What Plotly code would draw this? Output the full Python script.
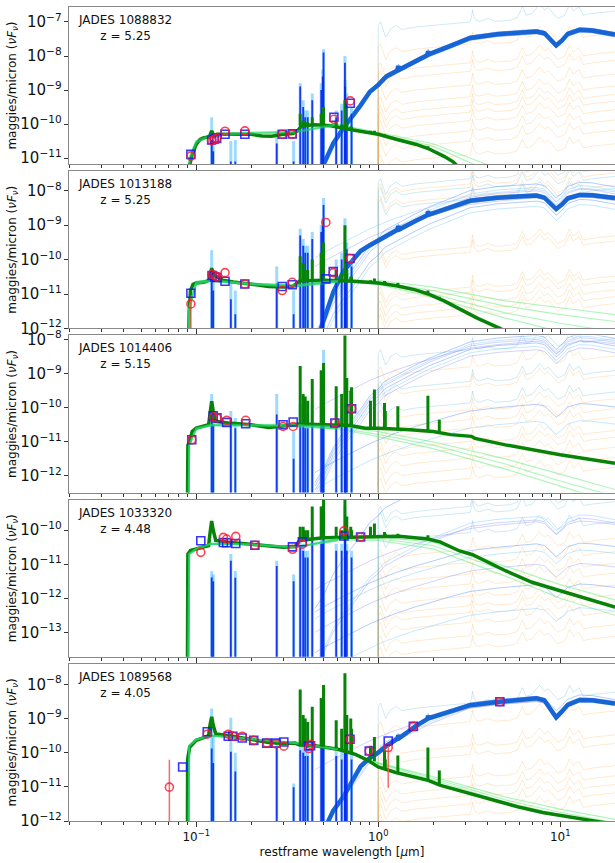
import math
import plotly.graph_objects as go
from plotly.subplots import make_subplots

# ----------------------------------------------------------------- data
OBJ_NAMES = ["JADES 1088832", "JADES 1013188", "JADES 1014406", "JADES 1033320", "JADES 1089568"]
REDSHIFTS = ["5.25", "5.25", "5.15", "4.48", "4.05"]
Y_RANGES = [(-11.18, -6.56), (-12.0, -7.43), (-12.49, -7.88), (-13.72, -9.10), (-12.0, -7.40)]
X_RANGE = (0.02, 20.0)
X_TICKS = [0.1, 1.0, 10.0]
X_TICK_TEXT = ["10<sup>\u22121</sup>", "10<sup>0</sup>", "10<sup>1</sup>"]

# photometry: wavelength [um], observed and model log10 flux
P1_PHOT_WL = [0.0935, 0.1216, 0.1257, 0.1295, 0.144, 0.185, 0.297, 0.337, 0.571, 0.702]
P1_OBS = [-10.94, -10.49, -10.45, -10.42, -10.21, -10.20, -10.30, -10.30, -9.86, -9.32]
P1_MOD = [-10.89, -10.47, -10.44, -10.42, -10.30, -10.30, -10.30, -10.29, -9.80, -9.39]

P2_PHOT_WL = [0.0935, 0.1222, 0.1266, 0.130, 0.144, 0.185, 0.297, 0.337, 0.516, 0.566, 0.70]
P2_OBS = [-11.29, -10.43, -10.46, -10.51, -10.38, -10.71, -10.90, -10.66, -8.92, -10.38, -9.97]
P2_MOD = [-10.98, -10.46, -10.51, -10.52, -10.63, -10.71, -10.78, -10.73, -10.56, -10.35, -9.97]

P3_PHOT_WL = [0.0945, 0.124, 0.130, 0.147, 0.187, 0.300, 0.341, 0.578, 0.714]
P3_OBS = [-10.94, -10.27, -10.30, -10.37, -10.37, -10.55, -10.55, -10.45, -10.03]
P3_MOD = [-10.94, -10.24, -10.30, -10.43, -10.47, -10.50, -10.42, -10.45, -10.03]

P4_PHOT_WL = [0.106, 0.141, 0.147, 0.165, 0.21, 0.338, 0.383, 0.648, 0.80]
P4_OBS = [-10.65, -10.21, -10.26, -10.18, -10.44, -10.56, -10.41, -10.02, -10.20]
P4_MOD = [-10.31, -10.36, -10.37, -10.39, -10.44, -10.49, -10.34, -10.17, -10.20]

P5_PHOT_WL = [0.0712, 0.0842, 0.115, 0.150, 0.159, 0.179, 0.207, 0.244, 0.274, 0.303,
              0.415, 0.425, 0.70, 0.893, 1.135, 1.56, 4.66]
P5_OBS = [-11.01, None, -9.46, -9.46, -9.52, -9.52, -9.64, -9.72, -9.74, -9.81,
          -9.88, -9.76, -9.61, -9.95, -9.85, -9.23, -8.51]
P5_MOD = [None, -10.42, -9.39, -9.52, -9.52, -9.57, -9.64, -9.72, -9.72, -9.69,
          -9.80, -9.80, -9.61, -9.95, -9.66, -9.23, -8.51]

# error bars (wavelength, low, high) in log10 flux
P2_ERR_WL = [0.0935]
P2_ERR_LO = [-12.6]
P2_ERR_HI = [-11.05]
P5_ERR_WL = [0.0712, 1.135]
P5_ERR_LO = [-12.6, -11.03]
P5_ERR_HI = [-10.21, -9.78]

# stellar best-fit continuum (thick green)
P1_G_WL = [0.0905, 0.0912, 0.095, 0.1, 0.105, 0.11, 0.118, 0.1216, 0.125, 0.13, 0.15, 0.2, 0.23, 0.26,
           0.3, 0.34, 0.36, 0.38, 0.45, 0.55, 0.65, 0.8, 1.0, 1.3, 1.62, 1.88, 2.3, 2.58, 2.8]
P1_G = [-13, -11.3, -10.9, -10.6, -10.45, -10.4, -10.38, -10.2, -10.35, -10.3, -10.3, -10.3, -10.35, -10.36,
        -10.3, -10.28, -10.2, -10.05, -10.02, -10.05, -10.13, -10.22, -10.3, -10.47, -10.6, -10.72, -10.95,
        -11.11, -11.3]
P2_G_WL = [0.0905, 0.0915, 0.093, 0.096, 0.1, 0.11, 0.118, 0.1216, 0.125, 0.13, 0.14, 0.16, 0.2, 0.25, 0.3,
           0.34, 0.37, 0.5, 0.7, 1.0, 1.26, 1.6, 1.88, 2.3, 2.81, 3.5, 4.66, 5.5]
P2_G = [-13, -11.5, -10.9, -10.72, -10.68, -10.66, -10.6, -10.25, -10.45, -10.5, -10.6, -10.65, -10.72,
        -10.78, -10.8, -10.78, -10.62, -10.6, -10.62, -10.68, -10.76, -10.88, -11.0, -11.2, -11.44, -11.7,
        -12.0, -12.2]
P3_G_WL = [0.0895, 0.09, 0.092, 0.095, 0.1, 0.11, 0.117, 0.119, 0.1216, 0.124, 0.128, 0.15, 0.2, 0.25, 0.3,
           0.35, 0.37, 0.5, 0.7, 0.85, 1.0, 1.5, 2.0, 2.5, 3.25, 3.4, 5.0, 10.0, 20.0]
P3_G = [-13, -11.1, -11.0, -10.7, -10.6, -10.55, -10.5, -10.2, -9.81, -10.1, -10.4, -10.45, -10.5, -10.58,
        -10.55, -10.5, -10.48, -10.5, -10.52, -10.6, -10.6, -10.65, -10.7, -10.79, -10.84, -10.9, -11.09,
        -11.38, -11.63]
P4_G_WL = [0.0895, 0.09, 0.093, 0.1, 0.11, 0.117, 0.119, 0.1216, 0.124, 0.128, 0.15, 0.2, 0.25, 0.3, 0.35,
           0.37, 0.5, 0.7, 1.0, 1.3, 1.88, 2.2, 2.8, 3.3, 5.0, 7.0, 10.0, 15.0, 20.0]
P4_G = [-14, -10.7, -10.6, -10.55, -10.5, -10.45, -10.1, -9.73, -10.0, -10.3, -10.35, -10.42, -10.48, -10.5,
        -10.48, -10.3, -10.22, -10.2, -10.17, -10.18, -10.26, -10.35, -10.61, -10.72, -11.19, -11.53,
        -11.78, -12.07, -12.26]
P5_G_WL = [0.0893, 0.0897, 0.092, 0.1, 0.11, 0.117, 0.119, 0.1216, 0.124, 0.128, 0.15, 0.2, 0.25, 0.3, 0.35,
           0.37, 0.45, 0.6, 0.75, 0.88, 1.0, 1.25, 1.5, 1.88, 2.2, 3.2, 4.7, 6.0, 8.0, 11.3, 16.0, 20.0]
P5_G = [-14, -10.2, -9.84, -9.64, -9.56, -9.5, -9.2, -8.95, -9.2, -9.45, -9.5, -9.6, -9.7, -9.73, -9.72,
        -9.78, -9.8, -9.9, -10.05, -10.23, -10.42, -10.58, -10.68, -10.81, -10.96, -11.2, -11.45, -11.6,
        -11.75, -11.89, -12.03, -12.1]

# nebular lines on the stellar model: wavelength, base and peak (log10 flux)
GL_WL = [0.3727, 0.3869, 0.397, 0.410, 0.434, 0.4861, 0.4959, 0.5007, 0.5876, 0.630, 0.6563, 0.672,
         0.7065, 0.7136, 0.9069, 0.9531, 1.083, 1.094, 1.282, 1.875, 2.166]
P1_GL_BASE = [-10.05, -10.03, -10.03, -10.02, -10.02, -10.02, -10.03, -10.03, -10.08, -10.1, -10.12, -10.13,
              -10.15, -10.15, -10.25, -10.28, -10.35, -10.36, -10.47, -10.72, -10.9]
P1_GL_PEAK = [-9.7, -9.9, -9.95, -9.95, -9.8, -9.7, -9.7, -9.5, -9.95, -10.02, -9.3, -9.95, -10.08, -10.08,
              -10.2, -10.2, -10.3, -10.33, -10.42, -10.65, -10.88]
P2_GL_BASE = [-10.62, -10.61, -10.6, -10.6, -10.6, -10.6, -10.6, -10.6, -10.6, -10.61, -10.62, -10.62,
              -10.63, -10.63, -10.66, -10.67, -10.7, -10.7, -10.76, -11.0, -11.12]
P2_GL_PEAK = [-9.9, -10.1, -10.3, -10.3, -10.0, -9.8, -9.9, -9.5, -10.3, -10.4, -9.0, -10.3, -10.5, -10.5,
              -10.6, -10.55, -10.62, -10.65, -10.68, -10.9, -11.08]
P3_GL_BASE = [-10.48, -10.48, -10.49, -10.49, -10.5, -10.5, -10.5, -10.5, -10.51, -10.51, -10.52, -10.52,
              -10.53, -10.53, -10.6, -10.6, -10.61, -10.61, -10.63, -10.68, -10.72]
P3_GL_PEAK = [-8.78, -9.6, -9.67, -9.8, -9.16, -8.9, -9.2, -8.69, -9.37, -9.6, -7.7, -9.13, -9.5, -9.4,
              -9.8, -9.47, -9.86, -10.1, -9.96, -9.65, -10.35]
P4_GL_BASE = [-10.28, -10.27, -10.26, -10.25, -10.24, -10.22, -10.22, -10.22, -10.21, -10.2, -10.2, -10.2,
              -10.2, -10.2, -10.18, -10.18, -10.17, -10.17, -10.18, -10.26, -10.34]
P4_GL_PEAK = [-9.9, -9.9, -10.0, -10.0, -9.3, -9.3, -9.3, -9.0, -9.9, -10.0, -8.9, -9.6, -9.9, -10.0,
              -9.9, -9.8, -10.05, -10.1, -10.1, -10.15, -10.3]
P5_GL_BASE = [-9.78, -9.79, -9.79, -9.8, -9.8, -9.82, -9.83, -9.83, -9.88, -9.92, -9.95, -9.97, -10.0,
              -10.01, -10.2, -10.25, -10.45, -10.46, -10.58, -10.81, -10.96]
P5_GL_PEAK = [-8.15, -8.9, -9.0, -9.1, -8.66, -8.4, -8.5, -8.02, -9.05, -9.3, -7.68, -8.9, -9.0, -9.3,
              -9.8, -9.54, -9.93, -10.2, -10.08, -9.85, -10.52]

# stellar posterior samples (light green)
LG_WL = [0.0905, 0.0915, 0.1, 0.12, 0.2, 0.35, 0.6, 1.0, 2.0, 5.0, 10.0, 20.0]
P1_LG = [[-14, -11.2, -10.55, -10.35, -10.28, -10.25, -10.02, -10.28, -10.65, -11.6, -12.4, -13.1],
         [-14, -11.0, -10.5, -10.32, -10.25, -10.22, -10.0, -10.25, -10.58, -11.4, -12.1, -12.8]]
P2_LG = [[-14, -11.4, -10.65, -10.6, -10.7, -10.75, -10.6, -10.6, -10.8, -11.2, -11.4, -11.6],
         [-14, -11.4, -10.65, -10.6, -10.7, -10.75, -10.62, -10.65, -10.9, -11.35, -11.6, -11.8],
         [-14, -11.4, -10.7, -10.62, -10.72, -10.78, -10.65, -10.7, -11.0, -11.55, -11.85, -12.1],
         [-14, -11.4, -10.7, -10.62, -10.72, -10.78, -10.62, -10.72, -11.1, -11.7, -12.1, -12.4]]
P3_LG = [[-14, -11.1, -10.6, -10.5, -10.5, -10.5, -10.55, -10.7, -11.0, -11.5, -11.95, -12.4],
         [-14, -11.1, -10.62, -10.52, -10.52, -10.52, -10.6, -10.78, -11.1, -11.65, -12.15, -12.6],
         [-14, -11.1, -10.62, -10.52, -10.52, -10.55, -10.62, -10.85, -11.2, -11.8, -12.3, -12.8]]
P4_LG = [[-14, -10.7, -10.55, -10.4, -10.42, -10.5, -10.25, -10.2, -10.35, -11.05, -11.6, -12.05],
         [-14, -10.7, -10.55, -10.4, -10.42, -10.5, -10.28, -10.25, -10.45, -11.2, -11.8, -12.3],
         [-14, -10.7, -10.55, -10.4, -10.42, -10.5, -10.3, -10.3, -10.55, -11.35, -12.0, -12.5]]
P5_LG = [[-14, -9.8, -9.62, -9.5, -9.6, -9.72, -9.9, -10.3, -10.7, -11.3, -11.65, -11.95],
         [-14, -9.8, -9.62, -9.5, -9.6, -9.72, -9.9, -10.3, -10.75, -11.38, -11.75, -12.05],
         [-14, -9.8, -9.62, -9.5, -9.6, -9.72, -9.9, -10.32, -10.8, -11.45, -11.82, -12.15]]
UV_LIMIT = 0.7   # samples are drawn over the best fit shortward of this wavelength

# AGN torus best fit (thick blue)
AGN_WL = [0.45, 0.5, 0.566, 0.642, 0.8, 0.9, 1.0, 1.08, 1.11, 1.27, 1.29, 1.31, 1.6, 1.86, 1.88, 1.9, 2.5,
          3.2, 4.5, 6.0, 7.4, 8.2, 9.0, 9.5, 10.2, 11.0, 12.8, 15.0, 20.0]
P1_A = [-11.6, -11.2, -10.57, -10.13, -9.45, -9.05, -8.85, -8.66, -8.6, -8.43, -8.3, -8.4, -8.15, -7.98,
        -7.86, -7.95, -7.7, -7.47, -7.36, -7.32, -7.28, -7.33, -7.55, -7.69, -7.55, -7.35, -7.23, -7.25, -7.37]
P2_A = [-12.5, -11.8, -10.95, -10.35, -9.75, -9.58, -9.44, -9.33, -9.3, -9.14, -9.03, -9.12, -8.88, -8.71,
        -8.6, -8.69, -8.48, -8.29, -8.2, -8.16, -8.14, -8.2, -8.4, -8.53, -8.4, -8.22, -8.12, -8.13, -8.21]
P3_A = None
P4_A = None
P5_A = [-13, -12.3, -11.7, -11.3, -10.4, -10.15, -10.0, -9.85, -9.8, -9.6, -9.5, -9.57, -9.23, -9.02,
        -8.92, -8.99, -8.78, -8.61, -8.52, -8.45, -8.41, -8.47, -8.8, -8.97, -8.8, -8.6, -8.46, -8.47, -8.56]
# AGN posterior sample shapes (relative to 7.4 um)
AGN_STEEP_REL = [-4.3, -3.92, -3.29, -2.85, -2.17, -1.77, -1.57, -1.36, -1.32, -1.15, -1.13, -1.11, -0.87,
                 -0.7, -0.68, -0.67, -0.42, -0.19, -0.08, -0.04, 0.0, -0.05, -0.27, -0.41, -0.27, -0.07,
                 0.05, 0.03, -0.09]
AGN_SHALLOW_REL = [-2.0, -1.85, -1.7, -1.55, -1.3, -1.15, -1.05, -0.97, -0.95, -0.83, -0.82, -0.81, -0.65,
                   -0.56, -0.55, -0.54, -0.35, -0.2, -0.1, -0.05, 0.0, -0.05, -0.25, -0.38, -0.25, -0.08,
                   0.02, 0.0, -0.08]
P1_AGN_STEEP = [-7.22, -7.25, -7.32, -7.35]
P1_AGN_SHALLOW = []
P2_AGN_STEEP = [-7.8, -7.9, -8.0, -8.3, -8.45]
P2_AGN_SHALLOW = [-7.95, -8.2]
P3_AGN_STEEP = [-7.88, -7.95, -8.0, -8.1, -8.2, -8.3]
P3_AGN_SHALLOW = [-8.05, -9.9, -10.4]
P4_AGN_STEEP = [-8.0, -9.6, -9.7]
P4_AGN_SHALLOW = [-9.75, -10.4, -10.6, -11.0, -11.6, -12.3]
P5_AGN_STEEP = [-8.36, -8.45, -8.5]
P5_AGN_SHALLOW = [-8.5]

# dust emission models (relative shape, log10) and their levels at 2 um
DUST_WL = [1.0, 1.0, 1.03, 1.1, 1.17, 1.25, 1.35, 1.6, 2.0, 2.6, 3.2, 3.27, 3.3, 3.36, 3.45, 3.6, 4.0, 4.4,
           5.3, 5.8, 6.2, 6.5, 7.0, 7.7, 8.2, 8.6, 9.2, 9.7, 10.6, 11.25, 11.8, 12.7, 13.4, 15.0, 17.0, 20.0]
DUST_REL = [-30, 0.0, 0.1, -0.35, -0.1, 0.0, -0.12, -0.05, 0.0, 0.05, 0.1, 0.3, 0.45, 0.25, 0.15, 0.12,
            0.2, 0.12, 0.15, 0.22, 0.55, 0.3, 0.35, 0.62, 0.45, 0.52, 0.35, 0.2, 0.3, 0.62, 0.42, 0.55,
            0.3, 0.35, 0.38, 0.42]
P1_DUST_ORANGE = [-7.75, -8.3, -8.55, -8.95, -9.3, -9.55, -9.75, -10.0, -10.3, -10.6, -11.0]
P1_DUST_TEAL = [-7.1]
P2_DUST_ORANGE = [-7.9, -8.25, -9.73, -9.88, -10.9, -11.05, -11.3, -11.5, -11.7]
P2_DUST_TEAL = [-7.75, -8.0, -8.35]
P3_DUST_ORANGE = [-8.9, -9.47, -10.16, -10.45, -10.7, -11.09, -11.29, -11.58, -11.88, -12.17]
P3_DUST_TEAL = [-8.4, -9.33, -9.96]
P4_DUST_ORANGE = [-10.66, -11.05, -11.39, -11.68, -12.03, -12.32, -12.52, -12.81, -13.2, -13.54]
P4_DUST_TEAL = [-9.4, -9.58, -10.17]
P5_DUST_ORANGE = [-9.2, -9.9, -10.15, -10.8, -11.1, -11.35, -11.6, -11.9]
P5_DUST_TEAL = [-8.65]

# AGN narrow emission lines: wavelength and peak (dark core / light envelope)
EL_WL = [0.1216, 0.124, 0.155, 0.164, 0.277, 0.343, 0.3727, 0.3869, 0.397, 0.410, 0.434, 0.4861, 0.4959,
         0.5007, 0.5876, 0.630, 0.6563, 0.6584, 0.672, 0.7136]
P1_EL_DARK = [-10.47, -10.8, -11.1, -11.1, -10.57, -11.1, -8.9, -9.5, -9.8, -9.8, -9.3, -9.0, -8.6, -7.9,
              -9.8, -9.6, -8.2, -8.9, -9.3, -9.7]
P1_EL_LIGHT = [-9.8, -10.5, -10.5, -10.47, -10.2, -10.5, -8.8, -9.3, -9.6, -9.6, -9.1, -8.8, -8.4, -7.8,
               -9.6, -9.4, -8.0, -8.7, -9.1, -9.5]
P2_EL_DARK = [-10.46, -10.9, -11.15, -11.59, -10.7, -11.59, -9.3, -9.6, -9.8, -9.8, -9.4, -9.2, -9.0, -8.41,
              -10.3, -10.0, -9.05, -9.7, -9.7, -10.2]
P2_EL_LIGHT = [-9.73, -10.3, -10.6, -10.9, -10.2, -10.9, -9.1, -9.4, -9.6, -9.6, -9.2, -9.0, -8.8, -8.21,
               -10.0, -9.8, -8.8, -9.5, -9.5, -10.0]
P3_EL_DARK = [-10.2, -10.5, -10.3, -10.6, -10.2, -11.5, -10.5, -10.5, -10.6, -10.6, -10.5, -10.5, -10.5,
              -10.4, -10.2, -10.5, -10.4, -10.5, -10.5, -10.6]
P3_EL_LIGHT = [-9.6, -10.3, -10.1, -10.3, -9.6, -10.7, -9.9, -10.1, -10.2, -10.2, -9.9, -9.5, -9.3, -8.3,
               -10.0, -10.2, -9.6, -10.2, -10.2, -10.4]
P4_EL_DARK = [-11.39, -11.5, -10.9, -11.4, -11.05, -11.5, -10.5, -10.6, -10.8, -10.8, -10.3, -10.4, -10.4,
              -9.6, -10.6, -10.6, -9.5, -10.3, -10.6, -10.8]
P4_EL_LIGHT = [-11.2, -11.3, -10.7, -11.2, -10.9, -11.3, -10.3, -10.4, -10.6, -10.6, -10.1, -10.2, -10.2,
               -9.4, -10.4, -10.4, -9.3, -10.1, -10.4, -10.6]
P5_EL_DARK = [-9.88, -10.3, -9.97, -10.55, -9.84, -11.01, -9.93, -10.0, -10.1, -10.1, -9.9, -9.7, -9.6,
              -9.3, -10.1, -10.2, -9.3, -9.9, -10.0, -10.2]
P5_EL_LIGHT = [-8.71, -9.5, -8.98, -10.0, -9.6, -10.9, -9.6, -9.8, -9.9, -9.9, -9.6, -9.4, -9.2, -8.8,
               -9.8, -9.9, -8.9, -9.6, -9.7, -9.9]

# ----------------------------------------------------------------- styling
ORANGE = "rgba(255,160,40,0.22)"
TEAL = "rgba(100,185,215,0.30)"
AGN_THIN = ["rgba(40,110,255,0.35)", "rgba(90,190,255,0.35)", "rgba(80,80,255,0.25)"]
AGN_THICK = "#1764d4"
AGN_EDGE = "rgba(90,150,255,0.55)"
LGREEN = "rgba(60,230,90,0.40)"
LGREEN_UV = "rgba(40,215,110,0.45)"
GREEN = "#078407"
SPIKE_LIGHT = "rgba(40,170,255,0.45)"
SPIKE_DARK = "rgba(10,40,235,0.90)"
FLOOR = -40.0

PANELS = [
    dict(phot=(P1_PHOT_WL, P1_OBS, P1_MOD), err=None, g=(P1_G_WL, P1_G), gl=(P1_GL_BASE, P1_GL_PEAK),
         lg=P1_LG, a=P1_A, steep=P1_AGN_STEEP, shallow=P1_AGN_SHALLOW, dust=(P1_DUST_ORANGE, P1_DUST_TEAL),
         el=(P1_EL_DARK, P1_EL_LIGHT)),
    dict(phot=(P2_PHOT_WL, P2_OBS, P2_MOD), err=(P2_ERR_WL, P2_ERR_LO, P2_ERR_HI), g=(P2_G_WL, P2_G),
         gl=(P2_GL_BASE, P2_GL_PEAK), lg=P2_LG, a=P2_A, steep=P2_AGN_STEEP, shallow=P2_AGN_SHALLOW,
         dust=(P2_DUST_ORANGE, P2_DUST_TEAL), el=(P2_EL_DARK, P2_EL_LIGHT)),
    dict(phot=(P3_PHOT_WL, P3_OBS, P3_MOD), err=None, g=(P3_G_WL, P3_G), gl=(P3_GL_BASE, P3_GL_PEAK),
         lg=P3_LG, a=P3_A, steep=P3_AGN_STEEP, shallow=P3_AGN_SHALLOW, dust=(P3_DUST_ORANGE, P3_DUST_TEAL),
         el=(P3_EL_DARK, P3_EL_LIGHT)),
    dict(phot=(P4_PHOT_WL, P4_OBS, P4_MOD), err=None, g=(P4_G_WL, P4_G), gl=(P4_GL_BASE, P4_GL_PEAK),
         lg=P4_LG, a=P4_A, steep=P4_AGN_STEEP, shallow=P4_AGN_SHALLOW, dust=(P4_DUST_ORANGE, P4_DUST_TEAL),
         el=(P4_EL_DARK, P4_EL_LIGHT)),
    dict(phot=(P5_PHOT_WL, P5_OBS, P5_MOD), err=(P5_ERR_WL, P5_ERR_LO, P5_ERR_HI), g=(P5_G_WL, P5_G),
         gl=(P5_GL_BASE, P5_GL_PEAK), lg=P5_LG, a=P5_A, steep=P5_AGN_STEEP, shallow=P5_AGN_SHALLOW,
         dust=(P5_DUST_ORANGE, P5_DUST_TEAL), el=(P5_EL_DARK, P5_EL_LIGHT)),
]


def lin(vals):
    return [None if v is None else 10.0 ** v for v in vals]


fig = make_subplots(rows=5, cols=1, shared_xaxes=True, vertical_spacing=7.0 / 814.0)


def add_line(row, x, ylog, color, width):
    fig.add_trace(go.Scatter(x=x, y=lin(ylog), mode="lines", line=dict(color=color, width=width),
                             hoverinfo="skip", showlegend=False), row=row, col=1)


def add_segments(row, xs, lo, hi, color, width):
    x, y = [], []
    for w, a, b in zip(xs, lo, hi):
        x += [w, w, None]
        y += [a, b, None]
    add_line(row, x, y, color, width)


for i, p in enumerate(PANELS):
    row = i + 1
    # dust models
    orange_levels, teal_levels = p["dust"]
    for lev in orange_levels:
        add_line(row, DUST_WL, [lev + r for r in DUST_REL], ORANGE, 1)
    for lev in teal_levels:
        add_line(row, DUST_WL, [lev + r for r in DUST_REL], TEAL, 1)
    # AGN posterior samples
    k = 0
    for off in p["steep"]:
        add_line(row, AGN_WL, [off + r for r in AGN_STEEP_REL], AGN_THIN[k % 3], 1)
        k += 1
    for off in p["shallow"]:
        add_line(row, AGN_WL, [off + r for r in AGN_SHALLOW_REL], AGN_THIN[(k + 2) % 3], 1)
        k += 1
    # stellar posterior samples
    for curve in p["lg"]:
        add_line(row, LG_WL, curve, LGREEN, 1.2)
    # AGN best fit
    if p["a"] is not None:
        add_line(row, AGN_WL, [v + 0.06 for v in p["a"]], AGN_EDGE, 1)
        add_line(row, AGN_WL, [v - 0.06 for v in p["a"]], AGN_EDGE, 1)
        add_line(row, AGN_WL, p["a"], AGN_THICK, 4.5)
    # emission-line spikes
    dark, light = p["el"]
    add_segments(row, EL_WL, [FLOOR] * len(EL_WL), light, SPIKE_LIGHT, 3)
    add_segments(row, EL_WL, [FLOOR] * len(EL_WL), dark, SPIKE_DARK, 1.8)
    # stellar best fit
    gwl, gval = p["g"]
    add_line(row, gwl, gval, GREEN, 3.5)
    # UV part of the stellar samples overlays the best fit
    for curve in p["lg"]:
        sel = [(w, v) for w, v in zip(LG_WL, curve) if w <= UV_LIMIT]
        add_line(row, [s[0] for s in sel], [s[1] for s in sel], LGREEN_UV, 2)
    base, peak = p["gl"]
    add_segments(row, GL_WL, base, peak, GREEN, 3)
    # error bars
    if p["err"] is not None:
        ewl, elo, ehi = p["err"]
        add_segments(row, ewl, elo, ehi, "rgba(250,80,70,0.85)", 1.5)
    # photometry
    wl, obs, mod = p["phot"]
    fig.add_trace(go.Scatter(x=wl, y=lin(mod), mode="markers",
                             marker=dict(symbol="square-open", size=8, color="rgba(20,20,255,0.85)",
                                         line=dict(width=1.6)),
                             hoverinfo="skip", showlegend=False), row=row, col=1)
    fig.add_trace(go.Scatter(x=wl, y=lin(obs), mode="markers",
                             marker=dict(symbol="circle-open", size=8, color="rgba(255,20,40,0.8)",
                                         line=dict(width=1.6)),
                             hoverinfo="skip", showlegend=False), row=row, col=1)

    xname = "x" if row == 1 else f"x{row}"
    yname = "y" if row == 1 else f"y{row}"
    fig.add_annotation(xref=f"{xname} domain", yref=f"{yname} domain", x=0.012, y=0.975,
                       xanchor="left", yanchor="top", align="center", showarrow=False,
                       text=f"{OBJ_NAMES[i]}<br>z = {REDSHIFTS[i]}",
                       font=dict(size=12, color="#111"))
    fig.update_yaxes(type="log", range=list(Y_RANGES[i]), dtick=1, exponentformat="power",
                     ticks="outside", ticklen=4, tickcolor="#333", showline=True, linecolor="#888",
                     linewidth=1, mirror=False, showgrid=False, zeroline=False,
                     tickfont=dict(size=12, color="#111"),
                     title=dict(text="maggies/micron (<i>\u03bdF</i><sub><i>\u03bd</i></sub>)",
                                font=dict(size=12, color="#111"), standoff=1),
                     automargin=False, row=row, col=1)

minor_vals = [m * 10.0 ** e for e in (-2, -1, 0, 1) for m in range(2, 10)] + [20.0]
for row in range(1, 6):
    fig.update_xaxes(type="log", range=[math.log10(X_RANGE[0]), math.log10(X_RANGE[1])],
                     tickmode="array", tickvals=X_TICKS, ticktext=X_TICK_TEXT,
                     ticks="outside", ticklen=5, tickcolor="#333", showline=True, linecolor="#888",
                     linewidth=1, mirror=True, showgrid=False, zeroline=False,
                     tickfont=dict(size=12, color="#111"),
                     minor=dict(tickmode="array", tickvals=minor_vals, ticks="outside", ticklen=3,
                                tickcolor="#333", showgrid=False),
                     automargin=False, row=row, col=1)
fig.update_xaxes(title=dict(text="restframe wavelength [<i>\u03bc</i>m]", font=dict(size=12, color="#111"),
                            standoff=4), row=5, col=1)

fig.update_layout(width=615, height=863, margin=dict(l=69, r=0, t=7, b=42),
                  plot_bgcolor="white", paper_bgcolor="white",
                  font=dict(family="DejaVu Sans", size=12, color="#111"), showlegend=False)

fig.write_html("out.html")
